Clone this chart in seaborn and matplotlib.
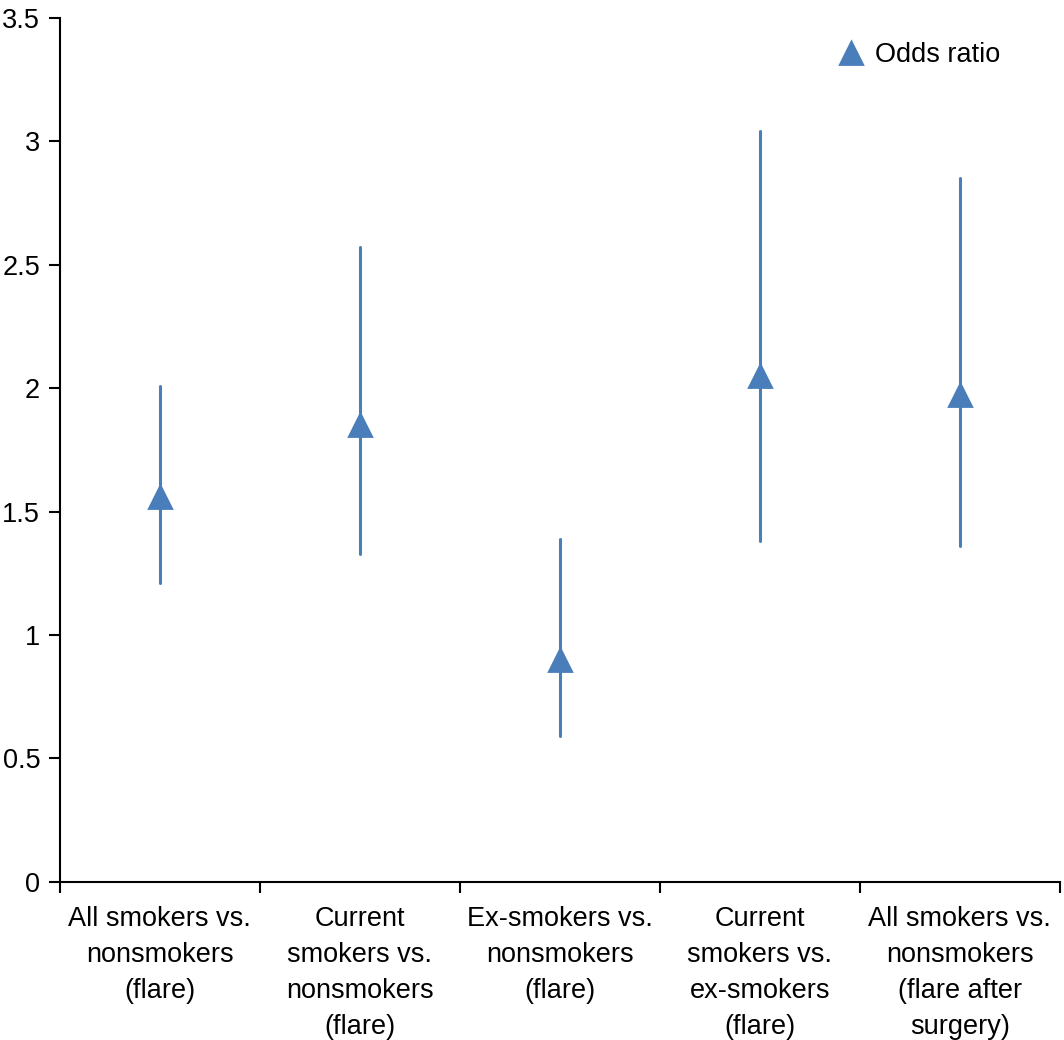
import pandas as pd
import seaborn as sns
import matplotlib.pyplot as plt

sns.set_style("ticks")
plt.rcParams["font.family"] = ["Liberation Sans", "DejaVu Sans"]
plt.rcParams.update({"font.size": 19.5, "text.color": "black", "axes.edgecolor": "black",
                     "xtick.color": "black", "ytick.color": "black"})

groups = [
    "All smokers vs.\nnonsmokers\n(flare)",
    "Current\nsmokers vs.\nnonsmokers\n(flare)",
    "Ex-smokers vs.\nnonsmokers\n(flare)",
    "Current\nsmokers vs.\nex-smokers\n(flare)",
    "All smokers vs.\nnonsmokers\n(flare after\nsurgery)",
]
odds_ratio = [1.56, 1.85, 0.90, 2.05, 1.97]
ci_low = [1.21, 1.33, 0.59, 1.38, 1.36]
ci_high = [2.01, 2.57, 1.39, 3.04, 2.85]

# long format: median gives the OR, the 100% interval gives the CI
rows = []
for g, lo, est, hi in zip(groups, ci_low, odds_ratio, ci_high):
    for v in (lo, est, hi):
        rows.append({"group": g, "value": v})
df = pd.DataFrame(rows)

color = "#4a7ebb"
fig, ax = plt.subplots(figsize=(10.64, 10.40), dpi=100)
sns.pointplot(data=df, x="group", y="value", estimator="median", errorbar=("pi", 100),
              linestyle="none", marker="^", markersize=16, color=color,
              err_kws={"linewidth": 2.2}, ax=ax, label="Odds ratio")

ax.set_xlim(-0.5, 4.5)
ax.set_ylim(0, 3.5)
ax.set_yticks([0, 0.5, 1, 1.5, 2, 2.5, 3, 3.5])
ax.set_yticklabels(["0", "0.5", "1", "1.5", "2", "2.5", "3", "3.5"])
ax.set_xticks([-0.5, 0.5, 1.5, 2.5, 3.5, 4.5], minor=False)
ax.set_xticklabels([])
ax.set_xticks(range(5), minor=True)
ax.set_xticklabels(groups, minor=True, linespacing=1.5)
ax.tick_params(axis="x", which="minor", length=0, pad=17)
ax.tick_params(axis="x", which="major", length=8, width=1.5, direction="out")
ax.tick_params(axis="y", length=8, width=1.5, pad=6)
for s in ["left", "bottom"]:
    ax.spines[s].set_linewidth(1.5)
sns.despine(ax=ax)
ax.set_xlabel("")
ax.set_ylabel("")
ax.legend(loc="upper right", frameon=False, handlelength=1.0, handletextpad=0.4,
          bbox_to_anchor=(0.965, 1.0))

plt.subplots_adjust(left=0.056, right=0.996, top=0.983, bottom=0.152)
plt.savefig("out.png", dpi=100)
